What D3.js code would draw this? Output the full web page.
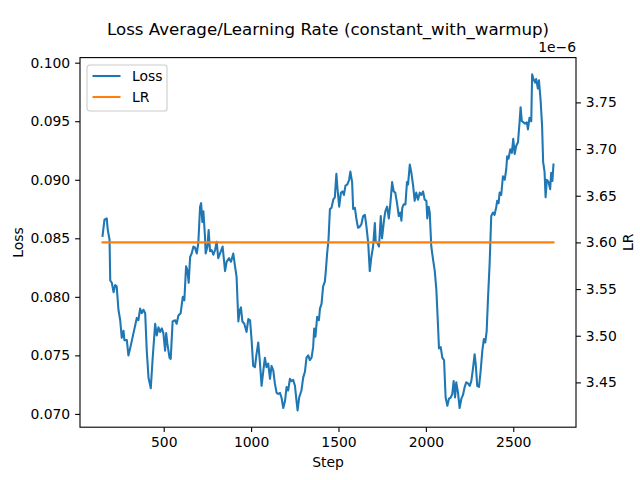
<!DOCTYPE html>
<html>
<head>
<meta charset="utf-8">
<script src="https://cdn.jsdelivr.net/npm/d3@7"></script>
<style>
  body { margin: 0; background: #fff; }
  svg text { font-family: "DejaVu Sans", sans-serif; fill: #000; }
</style>
</head>
<body>
<svg id="chart" width="640" height="480"></svg>
<script>
// training steps for the loss curve
var steps = [
  150,161,174,180,190,194,203,213,222,231,
  241,251,260,270,275,289,298,308,327,346,
  355,365,374,384,394,403,413,426,437,451,
  460,470,479,489,498,508,514,521,533,540,
  551,565,574,584,597,609,618,628,635,643,
  651,660,670,679,689,698,708,714,721,727,
  736,740,750,757,765,774,784,794,803,812,
  822,837,851,860,874,885,898,908,917,927,
  936,942,950,961,974,984,994,1003,1012,1022,
  1031,1041,1051,1060,1070,1079,1088,1098,1108,1117,
  1127,1136,1146,1155,1165,1174,1184,1194,1203,1212,
  1222,1231,1241,1251,1260,1266,1275,1288,1298,1308,
  1317,1327,1336,1346,1355,1361,1368,1378,1388,1394,
  1403,1412,1422,1428,1435,1443,1451,1460,1470,1479,
  1488,1494,1504,1514,1523,1531,1540,1551,1561,1568,
  1578,1584,1594,1603,1612,1622,1631,1641,1651,1660,
  1670,1679,1688,1698,1708,1713,1723,1732,1742,1749,
  1761,1768,1778,1788,1797,1807,1816,1825,1835,1845,
  1854,1860,1865,1873,1883,1892,1898,1908,1917,1927,
  1936,1945,1955,1965,1974,1984,1993,2003,2008,2016,
  2022,2031,2041,2051,2060,2069,2075,2085,2094,2104,
  2113,2123,2132,2142,2151,2159,2167,2174,2184,2193,
  2203,2212,2222,2231,2241,2251,2260,2269,2279,2285,
  2294,2304,2313,2323,2332,2340,2348,2355,2365,2374,
  2384,2393,2403,2408,2416,2422,2431,2441,2451,2460,
  2465,2473,2483,2492,2500,2508,2517,2527,2536,2542,
  2549,2559,2568,2578,2584,2593,2603,2608,2616,2625,
  2631,2641,2647,2656,2665,2671,2679,2685,2692,2702,
  2711,2717,2724,2730
];
// loss average at each step
var loss = [
  .0852,.0866,.0867,.0857,.0849,.0814,.0812,.0804,.0810,.0809,
  .0789,.0780,.0765,.0771,.0763,.0763,.0750,.0756,.0769,.0782,
  .0780,.0790,.0786,.0789,.0786,.0754,.0731,.0722,.0748,.0777,
  .0767,.0774,.0770,.0773,.0769,.0754,.0769,.0760,.0748,.0747,
  .0779,.0780,.0777,.0784,.0786,.0800,.0797,.0826,.0823,.0812,
  .0834,.0837,.0843,.0842,.0837,.0846,.0877,.0880,.0864,.0873,
  .0852,.0837,.0843,.0857,.0839,.0840,.0836,.0840,.0847,.0833,
  .0837,.0843,.0822,.0830,.0833,.0830,.0837,.0826,.0817,.0779,
  .0789,.0791,.0779,.0777,.0770,.0781,.0780,.0763,.0741,.0740,
  .0751,.0761,.0743,.0724,.0737,.0748,.0740,.0743,.0730,.0741,
  .0737,.0726,.0718,.0717,.0718,.0714,.0705,.0711,.0723,.0720,
  .0730,.0728,.0729,.0724,.0711,.0703,.0714,.0720,.0731,.0736,
  .0748,.0750,.0746,.0748,.0757,.0773,.0766,.0783,.0780,.0790,
  .0794,.0809,.0813,.0823,.0837,.0849,.0875,.0876,.0883,.0885,
  .0905,.0893,.0877,.0889,.0890,.0887,.0895,.0896,.0900,.0907,
  .0898,.0875,.0876,.0866,.0859,.0860,.0862,.0869,.0870,.0860,
  .0846,.0822,.0834,.0843,.0863,.0847,.0846,.0843,.0869,.0850,
  .0866,.0873,.0877,.0867,.0880,.0898,.0890,.0889,.0880,.0869,
  .0872,.0865,.0876,.0879,.0879,.0898,.0896,.0913,.0906,.0895,
  .0882,.0889,.0883,.0889,.0887,.0890,.0883,.0882,.0867,.0877,
  .0872,.0843,.0832,.0822,.0806,.0777,.0756,.0757,.0748,.0746,
  .0714,.0707,.0713,.0714,.0717,.0728,.0714,.0727,.0718,.0705,
  .0713,.0716,.0723,.0727,.0726,.0724,.0728,.0738,.0751,.0743,
  .0724,.0723,.0736,.0754,.0764,.0761,.0771,.0797,.0829,.0869,
  .0872,.0870,.0877,.0882,.0880,.0889,.0887,.0903,.0900,.0909,
  .0920,.0918,.0926,.0923,.0935,.0922,.0929,.0932,.0949,.0962,
  .0950,.0949,.0948,.0949,.0943,.0953,.0950,.0990,.0986,.0983,
  .0986,.0978,.0985,.0969,.0946,.0915,.0907,.0885,.0900,.0898,
  .0892,.0906,.0899,.0913
];
// learning rate (constant)
var lrSteps = [150, 2730];
var lrValues = [3.6e-6, 3.6e-6];

var stepTicks = [500, 1000, 1500, 2000, 2500];
var lossTicks = [0.070, 0.075, 0.080, 0.085, 0.090, 0.095, 0.100];
var lrTicks = [3.45e-6, 3.50e-6, 3.55e-6, 3.60e-6, 3.65e-6, 3.70e-6, 3.75e-6];

var svg = d3.select("#chart");
svg.append("rect").attr("width", 640).attr("height", 480).attr("fill", "#fff");

var axLeft = 80, axRight = 576, axTop = 57.6, axBottom = 427.2;
var fs = 13.9;

// padding like matplotlib margins (5%)
function pad(lo, hi) {
	var m = (hi - lo) * 0.05;
	return [lo - m, hi + m];
}

var x = d3.scaleLinear()
	.domain(pad(d3.min(steps), d3.max(steps)))
	.range([axLeft, axRight]);
var yLoss = d3.scaleLinear()
	.domain(pad(d3.min(loss), d3.max(loss)))
	.range([axBottom, axTop]);
// constant LR: range expanded by 5% each side, then margins
var lrMid = lrValues[0];
var yLR = d3.scaleLinear()
	.domain(pad(lrMid * 0.95, lrMid * 1.05))
	.range([axBottom, axTop]);

var lossLine = d3.line()
	.x(function(d, i) { return x(steps[i]); })
	.y(function(d) { return yLoss(d); });
var lrLine = d3.line()
	.x(function(d, i) { return x(lrSteps[i]); })
	.y(function(d) { return yLR(d); });

var plot = svg.append("g");
plot.append("path")
	.attr("d", lossLine(loss))
	.attr("fill", "none")
	.attr("stroke", "#1f77b4")
	.attr("stroke-width", 2.08)
	.attr("stroke-linejoin", "round")
	.attr("stroke-linecap", "square");
plot.append("path")
	.attr("d", lrLine(lrValues))
	.attr("fill", "none")
	.attr("stroke", "#ff7f0e")
	.attr("stroke-width", 2.08)
	.attr("stroke-linecap", "square");

// axes
function styleAxis(g) {
	g.select(".domain").remove();
	g.selectAll(".tick line").attr("stroke", "#000").attr("stroke-width", 1.1);
	g.selectAll(".tick text").attr("font-size", fs).attr("font-family", "DejaVu Sans").attr("fill", "#000");
}

svg.append("g")
	.attr("transform", "translate(0," + axBottom + ")")
	.call(d3.axisBottom(x).tickValues(stepTicks).tickFormat(d3.format("d")).tickSizeOuter(0).tickSize(4.9).tickPadding(4.9))
	.call(styleAxis);

svg.append("g")
	.attr("transform", "translate(" + axLeft + ",0)")
	.call(d3.axisLeft(yLoss).tickValues(lossTicks).tickFormat(d3.format(".3f")).tickSizeOuter(0).tickSize(4.9).tickPadding(4.9))
	.call(styleAxis);

svg.append("g")
	.attr("transform", "translate(" + axRight + ",0)")
	.call(d3.axisRight(yLR).tickValues(lrTicks).tickFormat(function(d) { return d3.format(".2f")(d * 1e6); }).tickSizeOuter(0).tickSize(4.9).tickPadding(4.9))
	.call(styleAxis);

// frame
svg.append("rect")
	.attr("x", axLeft).attr("y", axTop)
	.attr("width", axRight - axLeft).attr("height", axBottom - axTop)
	.attr("fill", "none").attr("stroke", "#000").attr("stroke-width", 1.1);

// offset text
svg.append("text")
	.attr("x", axRight).attr("y", 52)
	.attr("text-anchor", "end")
	.attr("font-size", fs)
	.text("1e\u22126");

// title and labels
svg.append("text")
	.attr("x", (axLeft + axRight) / 2).attr("y", 35)
	.attr("text-anchor", "middle")
	.attr("font-size", 16.67)
	.text("Loss Average/Learning Rate (constant_with_warmup)");
svg.append("text")
	.attr("x", (axLeft + axRight) / 2).attr("y", 467)
	.attr("text-anchor", "middle")
	.attr("font-size", fs)
	.text("Step");
svg.append("text")
	.attr("transform", "translate(23," + ((axTop + axBottom) / 2) + ") rotate(-90)")
	.attr("text-anchor", "middle")
	.attr("font-size", fs)
	.text("Loss");
svg.append("text")
	.attr("transform", "translate(633," + ((axTop + axBottom) / 2) + ") rotate(-90)")
	.attr("text-anchor", "middle")
	.attr("font-size", fs)
	.text("LR");

// legend
var legend = svg.append("g").attr("transform", "translate(87,65)");
legend.append("rect")
	.attr("width", 80).attr("height", 46)
	.attr("rx", 2.8)
	.attr("fill", "#fff").attr("fill-opacity", 0.8)
	.attr("stroke", "#cccccc").attr("stroke-width", 1.1);
var items = [{name: "Loss", color: "#1f77b4"}, {name: "LR", color: "#ff7f0e"}];
items.forEach(function(it, i) {
	var yy = 11 + i * 21;
	legend.append("line")
		.attr("x1", 5.5).attr("x2", 33.5).attr("y1", yy).attr("y2", yy)
		.attr("stroke", it.color).attr("stroke-width", 2.08);
	legend.append("text")
		.attr("x", 45).attr("y", yy + 5)
		.attr("font-size", fs)
		.text(it.name);
});
</script>
</body>
</html>
